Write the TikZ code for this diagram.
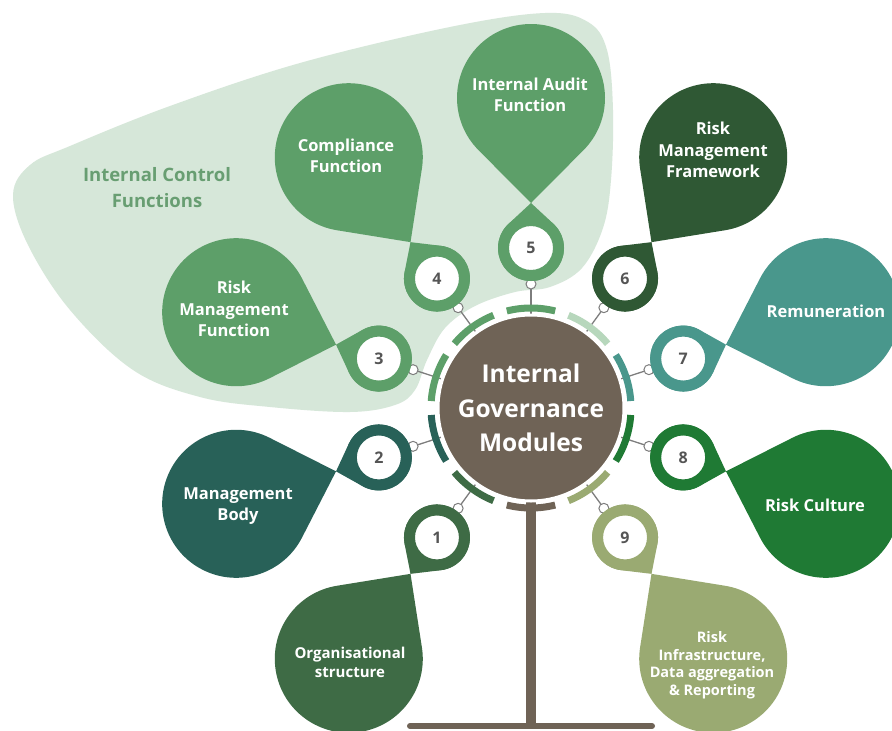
\documentclass[tikz,border=0pt]{standalone}
\usepackage{fontspec}
\setmainfont{Open Sans}
\usetikzlibrary{calc}
\definecolor{cone}{RGB}{62,107,69}
\definecolor{ctwo}{RGB}{40,97,88}
\definecolor{cthree}{RGB}{93,159,105}
\definecolor{csix}{RGB}{47,88,52}
\definecolor{cseven}{RGB}{73,151,140}
\definecolor{ceight}{RGB}{31,122,52}
\definecolor{cnine}{RGB}{154,170,114}
\definecolor{cpale}{RGB}{183,215,188}
\definecolor{ccore}{RGB}{111,99,86}
\definecolor{cblob}{RGB}{214,231,217}
\definecolor{clabel}{RGB}{104,158,114}
\definecolor{chook}{RGB}{125,125,125}
\definecolor{cnum}{RGB}{85,85,85}
\pgfdeclarelayer{back}
\pgfdeclarelayer{mid}
\pgfsetlayers{back,mid,main}
\newcommand{\drop}[5]{%
\pgfmathsetmacro{\da}{acos(#2/#4)}%
\pgfmathsetmacro{\db}{360-\da}%
\fill[#5,shift={#1},rotate=#3] (#4,0) -- (\da:#2) arc[start angle=\da,end angle=\db,radius=#2] -- cycle;}
\tikzset{
bubble/.style={circle,fill=white,line width=11pt,minimum size=55pt,inner sep=0pt,text=cnum,font=\bfseries\fontsize{16}{16}\selectfont},
core/.style={circle,fill=ccore,draw=white,line width=3pt,minimum size=186pt,inner sep=0pt,align=center,text=white,font=\bfseries\fontsize{24.5}{34.5}\selectfont},
dlabel/.style={align=center,text=white,font=\bfseries\fontsize{16.5}{21.5}\selectfont},
wire/.style={draw=chook,line width=1.3pt},
hookring/.style={draw=chook,fill=white,line width=1pt},
ringseg/.style={line width=7pt}
}
\begin{document}
\begin{tikzpicture}[x=1pt,y=1pt]
\useasboundingbox (0,0) rectangle (892,-731);
\clip (0,0) rectangle (892,-731);
\begin{pgfonlayer}{back}
\fill[white] (0,0) rectangle (892,-731);
\fill[cblob] plot[smooth cycle,tension=0.6] coordinates {(13,-195) (30,-165) (70,-146) (170,-106) (300,-63) (450,-27) (545,-13) (588,-22) (607,-50) (613,-110) (611,-180) (603,-228) (582,-268) (550,-287) (515,-292) (475,-306) (445,-328) (427,-360) (415,-390) (395,-405) (350,-412) (270,-407) (200,-397) (133,-370) (70,-310) (28,-245)};
\node[text=clabel,align=center,font=\bfseries\fontsize{18.5}{26}\selectfont] (ictrl) at (157,-188) {Internal Control\\Functions};
\end{pgfonlayer}
\begin{scope}[shift={(531,-408)}]
\foreach \n/\a/\c in {1/234/cone,2/198/ctwo,3/162/cthree,4/126/cthree,5/90/cthree,6/54/csix,7/18/cseven,8/-18/ceight,9/-54/cnine}
{
\drop{(\a:160)}{33}{\a}{45}{\c}
\drop{(\a:310)}{74}{\a+180}{105}{\c}
}
\foreach \a/\c in {234/cone,198/ctwo,162/cthree,126/cthree,90/cthree,54/cpale,18/cseven,-18/ceight,-54/cnine,270/ccore}
\draw[ringseg,\c] (\a-14:100) arc[start angle=\a-14,end angle=\a+14,radius=100];
\draw[ccore,line width=10pt] (0,-90) -- (0,-318);
\draw[ccore,line width=6pt,line cap=round] (-121,-318) -- (121,-318);
\node[core] (core) at (0,0) {Internal\\Governance\\Modules};
\foreach \n/\a/\c in {1/234/cone,2/198/ctwo,3/162/cthree,4/126/cthree,5/90/cthree,6/54/csix,7/18/cseven,8/-18/ceight,9/-54/cnine}
\node[bubble,draw=\c] (b\n) at (\a:160) {\n};
\end{scope}
\begin{pgfonlayer}{mid}
\foreach \n in {1,...,9}
{
\draw[wire] (b\n) -- (core);
\draw[hookring] ($(b\n)!36pt!(core)$) circle (5);
}
\end{pgfonlayer}
\node[dlabel,font=\bfseries\fontsize{15}{19}\selectfont] (lab1) at (350,-662) {Organisational\\structure};
\node[dlabel] (lab2) at (238,-506) {Management\\Body};
\node[dlabel] (lab3) at (234,-309) {Risk\\Management\\Function};
\node[dlabel] (lab4) at (346,-156) {Compliance\\Function};
\node[dlabel] (lab5) at (530,-95) {Internal Audit\\Function};
\node[dlabel] (lab6) at (713,-150) {Risk\\Management\\Framework};
\node[dlabel] (lab7) at (826,-311) {Remuneration};
\node[dlabel] (lab8) at (815,-505) {Risk Culture};
\node[dlabel,font=\bfseries\fontsize{14.5}{17.5}\selectfont] (lab9) at (712,-665) {Risk\\Infrastructure,\\Data aggregation\\\& Reporting};
\end{tikzpicture}
\end{document}
